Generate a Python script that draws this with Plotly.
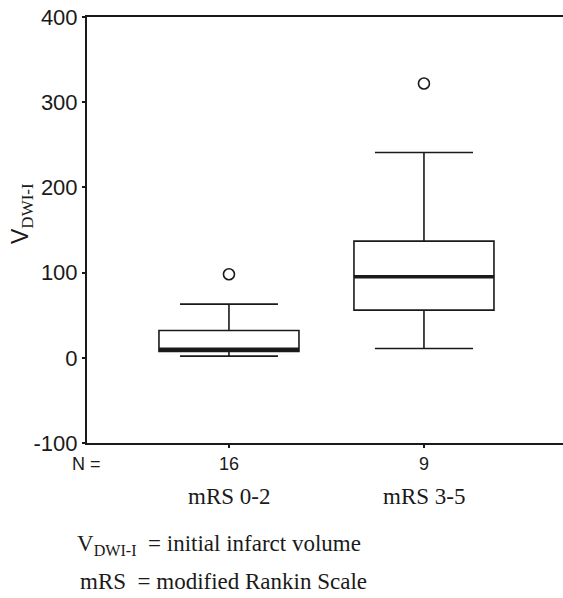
import plotly.graph_objects as go

# ---- data ----
groups = ["mRS 0-2", "mRS 3-5"]
group_n = ["16", "9"]
q1 = [7.5, 56]
median = [10, 95]
q3 = [32, 137]
lower_fence = [2, 11]
upper_fence = [63, 241]
outliers = [[98], [322]]
y_ticks = [-100, 0, 100, 200, 300, 400]
y_tick_text = ["-100", "0", "100", "200", "300", "400"]

xpos = list(range(len(groups)))
BOX_W = 0.718
SERIF = "Liberation Serif"
SANS = "Liberation Sans"
INK = "#1a1a1a"

fig = go.Figure()

fig.add_trace(go.Box(
    x=xpos, q1=q1, median=median, q3=q3,
    lowerfence=lower_fence, upperfence=upper_fence,
    width=BOX_W, whiskerwidth=0.7, boxpoints=False,
    fillcolor="white", line=dict(color=INK, width=1.6),
    showlegend=False, hoverinfo="skip",
))

# thick median lines
for xi, m in zip(xpos, median):
    fig.add_trace(go.Scatter(
        x=[xi - BOX_W / 2, xi + BOX_W / 2], y=[m, m], mode="lines",
        line=dict(color=INK, width=3.5), showlegend=False, hoverinfo="skip",
    ))

# outliers
ox, oy = [], []
for xi, vals in zip(xpos, outliers):
    for v in vals:
        ox.append(xi)
        oy.append(v)
fig.add_trace(go.Scatter(
    x=ox, y=oy, mode="markers",
    marker=dict(symbol="circle-open", size=11, color=INK, line=dict(width=1.6)),
    showlegend=False, hoverinfo="skip",
))

fig.update_layout(
    width=563, height=598,
    margin=dict(l=87, r=0, t=17, b=155),
    paper_bgcolor="white", plot_bgcolor="white",
    font=dict(family=SANS, color=INK),
    xaxis=dict(
        range=[-0.728, 1.713], tickvals=xpos, ticktext=group_n,
        showgrid=False, zeroline=False, showline=True, mirror=True,
        linecolor=INK, linewidth=2, ticks="outside", ticklen=3, tickwidth=2,
        tickcolor=INK, tickfont=dict(family=SANS, size=18, color=INK),
    ),
    yaxis=dict(
        range=[-100, 400], tickvals=y_ticks, ticktext=y_tick_text,
        showgrid=False, zeroline=False, showline=True, mirror=False,
        linecolor=INK, linewidth=2, ticks="outside", ticklen=3, tickwidth=2,
        tickcolor=INK, tickfont=dict(family=SANS, size=22, color=INK),
    ),
)

annotations = [
    dict(xref="paper", yref="paper", x=0, y=0, xshift=-1, yshift=-21,
         text="N =", showarrow=False, xanchor="center", yanchor="middle",
         font=dict(family=SANS, size=18, color=INK)),
    dict(xref="paper", yref="paper", x=0, y=0.5376, xshift=-65,
         text="V<sub><span style=\"font-family:Liberation Serif;font-size:17px\">DWI-I</span></sub>",
         textangle=-90, showarrow=False, xanchor="center", yanchor="middle",
         font=dict(family=SANS, size=23, color=INK)),
    dict(xref="paper", yref="paper", x=0, y=0, xshift=-12, yshift=-102,
         text="V<sub>DWI-I</sub>  = initial infarct volume", showarrow=False,
         xanchor="left", yanchor="middle", font=dict(family=SERIF, size=23, color=INK)),
    dict(xref="paper", yref="paper", x=0, y=0, xshift=-9, yshift=-138,
         text="mRS  = modified Rankin Scale", showarrow=False,
         xanchor="left", yanchor="middle", font=dict(family=SERIF, size=23, color=INK)),
]
for xi, g in zip(xpos, groups):
    annotations.append(dict(
        xref="x", yref="paper", x=xi, y=0, yshift=-53, text=g, showarrow=False,
        xanchor="center", yanchor="middle", font=dict(family=SERIF, size=23, color=INK)))
fig.update_layout(annotations=annotations)

fig.write_html("out.html")
